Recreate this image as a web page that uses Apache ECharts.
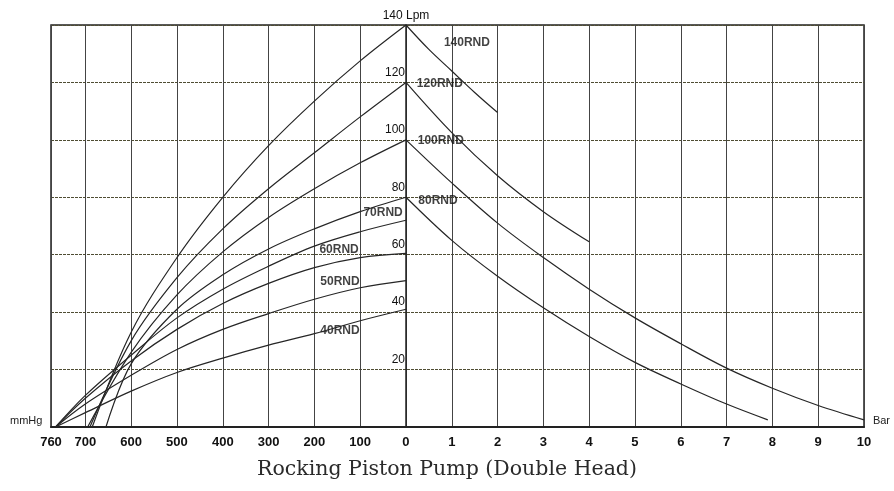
<!DOCTYPE html>
<html>
<head>
    <meta charset="utf-8">
    <script src="https://cdn.jsdelivr.net/npm/echarts@6/dist/echarts.min.js"></script>
    <style>
        body, html {
            margin: 0;
            height: 100%;
            background: #fff;
        }
        #main {
            width: 894px;
            height: 491px;
        }
    </style>
</head>
<body>
<div id="main"></div>

<script>
    // vacuum side: [mmHg, Lpm]
    var vac40  = [[0,41],[100,37],[200,32.5],[300,28.5],[400,24],[500,19],[600,12.5],[700,5],[760,0]];
    var vac50  = [[0,51],[100,48.5],[200,44.5],[300,39.5],[400,34],[500,27],[600,18],[700,8],[760,0]];
    var vac60  = [[0,60.5],[100,59],[200,55.5],[300,50],[400,43],[500,34],[600,23],[700,10],[760,0]];
    var vac70  = [[0,72],[100,68],[200,63],[300,56],[400,48],[500,38],[600,25],[700,11],[760,0]];
    var vac80  = [[0,80],[100,75],[200,69],[300,62],[400,53],[500,41],[600,22],[655,0]];
    var vac100 = [[0,100],[100,92],[200,83],[300,73],[400,61],[500,46],[600,26],[695,0]];
    var vac120 = [[0,120],[100,108],[200,95.5],[300,83],[400,69],[500,52],[600,30],[690,0]];
    var vac140 = [[0,140],[100,127.5],[200,113.5],[300,98],[400,80],[500,59],[600,33],[685,0]];

    // pressure side: [bar, Lpm]
    var pre80  = [[0,80],[1,65],[2,52.5],[3,41.5],[4,31.5],[5,22.5],[6,15],[7,8],[7.9,2.5]];
    var pre100 = [[0,100],[1,85],[2,71],[3,59],[4,48],[5,38],[6,29],[7,20.5],[8,13.5],[9,7.5],[10,2.5]];
    var pre120 = [[0,120],[1,102.5],[2,87.5],[3,75],[4,64.5]];
    var pre140 = [[0,140],[0.5,131.5],[1,124],[1.5,116.5],[2,109.5]];

    var modelNames = ['40RND','50RND','60RND','70RND','80RND','100RND','120RND','140RND'];
    // where each model name is written, in chart units (bar or 100 mmHg, Lpm)
    var labelSpots = [[-1.44,33.5],[-1.44,50.6],[-1.46,61.7],[-0.5,74.6],[0.7,78.8],[0.76,99.8],[0.74,119.6],[1.33,134]];

    var yTicks = [0, 20, 40, 60, 80, 100, 120, 140];

    // 0..700 mmHg is linear (100 mmHg per grid cell), 700..760 is squeezed into the last cell
    var leftEdge = -7.75;
    function toAxis(mmHg) {
        if (mmHg <= 700) return -mmHg / 100;
        return -(7 + (mmHg - 700) / 60 * 0.65);
    }
    function vacData(arr) {
        return arr.map(function (p) { return [toAxis(p[0]), p[1]]; });
    }

    var lineStyle = {color: '#262626', width: 1.2};
    function curve(name, data) {
        return {
            name: name,
            type: 'line',
            data: data,
            smooth: 0.35,
            symbol: 'none',
            lineStyle: lineStyle,
            silent: true
        };
    }

    var series = [
        curve('40RND', vacData(vac40)),
        curve('50RND', vacData(vac50)),
        curve('60RND', vacData(vac60)),
        curve('70RND', vacData(vac70)),
        curve('80RND', vacData(vac80)),
        curve('100RND', vacData(vac100)),
        curve('120RND', vacData(vac120)),
        curve('140RND', vacData(vac140)),
        curve('80RND', pre80),
        curve('100RND', pre100),
        curve('120RND', pre120),
        curve('140RND', pre140),
        {
            type: 'scatter',
            symbolSize: 0,
            silent: true,
            data: modelNames.map(function (n, i) { return {name: n, value: labelSpots[i]}; }),
            label: {
                show: true,
                position: 'inside',
                formatter: '{b}',
                color: '#111',
                fontFamily: 'Liberation Sans',
                fontWeight: 'bold',
                fontSize: 12
            }
        }
    ];

    var myChart = echarts.init(document.getElementById('main'));
    var option = {
        animation: false,
        title: {
            text: 'Rocking Piston Pump (Double Head)',
            left: 'center',
            top: 454,
            textStyle: {
                fontFamily: 'DejaVu Serif',
                fontWeight: 'normal',
                fontSize: 20.5,
                color: '#2a2a2a'
            }
        },
        grid: {
            left: 51,
            right: 30,
            top: 25,
            bottom: 64,
            show: true,
            borderColor: '#222',
            borderWidth: 1.5
        },
        xAxis: {
            type: 'value',
            min: leftEdge,
            max: 10,
            minInterval: 1,
            maxInterval: 1,
            axisLine: {lineStyle: {color: '#222', width: 2}},
            axisTick: {show: false},
            axisLabel: {
                margin: 9,
                fontFamily: 'Liberation Sans',
                fontWeight: 'bold',
                fontSize: 13,
                color: '#111',
                showMinLabel: true,
                formatter: function (v) {
                    if (v < -7) return '760';
                    if (v <= 0) return String(Math.round(-v * 100));
                    return String(v);
                }
            },
            splitLine: {show: true, lineStyle: {color: '#444', width: 1}}
        },
        yAxis: {
            type: 'value',
            position: 'left',
            offset: -355,
            min: yTicks[0],
            max: yTicks[yTicks.length - 1],
            interval: 20,
            name: '140 Lpm',
            nameLocation: 'end',
            nameGap: 3,
            nameTextStyle: {fontFamily: 'Liberation Sans', fontSize: 12, color: '#111', align: 'center'},
            axisLine: {show: true, onZero: false, lineStyle: {color: '#222', width: 1.5}},
            axisTick: {show: false},
            axisLabel: {
                margin: 1,
                fontFamily: 'Liberation Sans',
                fontSize: 12,
                color: '#111',
                verticalAlign: 'bottom',
                padding: [0, 0, 4, 0],
                formatter: function (v) {
                    return (v === 0 || v === 140) ? '' : String(v);
                }
            },
            splitLine: {show: true, lineStyle: {color: '#4f4d33', width: 1, type: [3, 1]}}
        },
        graphic: [{
            type: 'text',
            left: 10,
            top: 415,
            style: {text: 'mmHg', fontFamily: 'Liberation Sans', fontSize: 11, fill: '#222'}
        }, {
            type: 'text',
            right: 4,
            top: 415,
            style: {text: 'Bar', fontFamily: 'Liberation Sans', fontSize: 11, fill: '#222'}
        }],
        series: series
    };
    myChart.setOption(option);
</script>
</body>
</html>
